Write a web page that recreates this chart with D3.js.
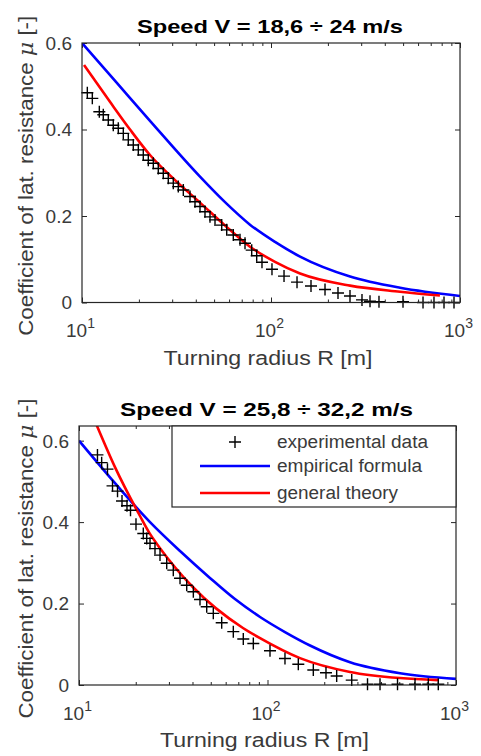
<!DOCTYPE html>
<html>
<head>
<meta charset="UTF-8">
<title>Coefficient of lateral resistance</title>
<script src="https://d3js.org/d3.v7.min.js"></script>
<style>
body { margin: 0; background: #fff; }
svg { font-family: "Liberation Sans", Arial, Helvetica, sans-serif; }
</style>
</head>
<body>
<svg width="481" height="756"></svg>
<script>
// ---- data ----
var xTicks = [10, 100, 1000];
var xMinor = [20, 30, 40, 50, 60, 70, 80, 90, 200, 300, 400, 500, 600, 700, 800, 900];
var yTicks = [0, 0.2, 0.4, 0.6];
var legendLabels = ["experimental data", "empirical formula", "general theory"];

// upper panel: V = 18,6 ÷ 24 m/s
var topExpR  = [10.67, 11.34, 12.35, 12.96, 13.78, 14.64, 15.56, 16.54, 17.58, 18.68, 19.86, 21.1, 22.43, 23.84, 25.33,
                26.92, 28.61, 30.41, 32.32, 34.36, 37.28, 39.62, 42.11, 44.75, 47.56, 50.55, 54.86, 58.3, 63.17, 68.55,
                72.86, 79.05, 84.0, 89.6, 101.2, 117.2, 137.3, 162.8, 193.1, 226.2, 261.8, 303.0, 334.1, 372.7, 499.4,
                637.3, 728.5, 823.0, 929.6];
var topExpMu = [0.485, 0.472, 0.441, 0.434, 0.422, 0.41, 0.403, 0.391, 0.376, 0.364, 0.353, 0.341, 0.329, 0.322, 0.31,
                0.299, 0.287, 0.276, 0.268, 0.26, 0.245, 0.233, 0.222, 0.21, 0.198, 0.191, 0.179, 0.168, 0.156, 0.145,
                0.137, 0.121, 0.108, 0.093, 0.077, 0.061, 0.047, 0.038, 0.03, 0.022, 0.015, 0.006, 0.003, 0.002, 0.002,
                0, 0, 0, 0];
var topEmpR  = [10, 15.13, 22.9, 42.1, 57.1, 77.4, 105, 142.5, 262, 482, 1000];
var topEmpMu = [0.6, 0.51, 0.42, 0.291, 0.232, 0.18, 0.14, 0.106, 0.06, 0.034, 0.015];
var topThR   = [10.25, 14.06, 17.95, 22.89, 31.05, 42.1, 57.1, 77.4, 105, 142.5, 262, 482, 783];
var topThMu  = [0.549, 0.464, 0.4, 0.341, 0.283, 0.231, 0.178, 0.129, 0.094, 0.067, 0.039, 0.025, 0.016];

// lower panel: V = 25,8 ÷ 32,2 m/s
var botExpR  = [12.53, 13.19, 14.16, 15.06, 16.01, 16.91, 17.97, 18.76, 20.06, 21.93, 22.87, 23.81, 25.3, 26.9, 29.2,
                31.64, 34.35, 37.28, 40.42, 43.84, 47.59, 51.58, 57.15, 65.86, 74.4, 84.1, 103.1, 123.8, 145.7, 175.0,
                204.3, 232.8, 279.8, 339.3, 395.3, 489.5, 606.2, 713.1, 805.5];
var botExpMu = [0.565, 0.546, 0.53, 0.489, 0.476, 0.452, 0.44, 0.429, 0.395, 0.372, 0.36, 0.348, 0.335, 0.319, 0.299,
                0.282, 0.262, 0.245, 0.229, 0.21, 0.192, 0.176, 0.153, 0.131, 0.113, 0.102, 0.084, 0.065, 0.051, 0.037,
                0.03, 0.022, 0.012, 0.002, 0.002, 0.002, 0.002, 0.002, 0.002];
var botEmpR  = [10, 14.6, 23.81, 34.35, 49.5, 67.2, 91.3, 123.8, 168.1, 274, 505, 1000];
var botEmpMu = [0.6, 0.51, 0.4, 0.329, 0.263, 0.211, 0.167, 0.13, 0.097, 0.056, 0.029, 0.015];
var botThR   = [12.41, 15.52, 21.07, 23.81, 26.9, 40.26, 74.1, 91.3, 148.7, 274, 505, 802.7];
var botThMu  = [0.638, 0.535, 0.415, 0.371, 0.336, 0.24, 0.14, 0.115, 0.066, 0.032, 0.017, 0.012];

// ---- layout of the two panels ----
var panels = [
  { left: 82, right: 460, top: 43, bottom: 302.5, ymax: 0.6, title: "Speed V = 18,6 \u00f7 24 m/s", titleW: 266,
    exp: [topExpR, topExpMu], emp: [topEmpR, topEmpMu], th: [topThR, topThMu], legend: false },
  { left: 79, right: 456, top: 426, bottom: 685, ymax: 0.636, title: "Speed V = 25,8  \u00f7 32,2 m/s", titleW: 293,
    exp: [botExpR, botExpMu], emp: [botEmpR, botEmpMu], th: [botThR, botThMu], legend: true }
];

var svg = d3.select("svg");
var ink = "#262626";

panels.forEach(function(p, i) {
  var x = d3.scaleLog().domain([10, 1000]).range([p.left, p.right]);
  var y = d3.scaleLinear().domain([0, p.ymax]).range([p.bottom, p.top]);
  var g = svg.append("g");

  var clipId = "clip" + i;
  g.append("clipPath").attr("id", clipId).append("rect")
    .attr("x", p.left).attr("y", p.top)
    .attr("width", p.right - p.left).attr("height", p.bottom - p.top);

  // ticks on all four sides, pointing inwards
  function tickAxis(axis, tx, ty, vals, len) {
    var a = g.append("g").attr("transform", "translate(" + tx + "," + ty + ")")
      .call(axis.tickValues(vals).tickSize(len).tickFormat(""));
    a.select(".domain").remove();
    a.selectAll(".tick line").attr("stroke", ink).attr("stroke-width", 1);
  }
  tickAxis(d3.axisBottom(x), 0, p.bottom, xTicks, -5);
  tickAxis(d3.axisBottom(x), 0, p.bottom, xMinor, -3);
  tickAxis(d3.axisTop(x), 0, p.top, xTicks, -5);
  tickAxis(d3.axisTop(x), 0, p.top, xMinor, -3);
  tickAxis(d3.axisLeft(y), p.left, 0, yTicks, -5);
  tickAxis(d3.axisRight(y), p.right, 0, yTicks, -5);

  // curves
  var line = d3.line().x(function(d) { return x(d[0]); }).y(function(d) { return y(d[1]); })
    .curve(d3.curveMonotoneX);
  var curves = g.append("g").attr("clip-path", "url(#" + clipId + ")");
  curves.append("path").datum(d3.zip(p.emp[0], p.emp[1]))
    .attr("d", line).attr("fill", "none").attr("stroke", "#0000ff").attr("stroke-width", 2.6);
  curves.append("path").datum(d3.zip(p.th[0], p.th[1]))
    .attr("d", line).attr("fill", "none").attr("stroke", "#ff0000").attr("stroke-width", 2.6);

  // experimental markers
  g.append("g").selectAll("path").data(d3.zip(p.exp[0], p.exp[1])).enter().append("path")
    .attr("transform", function(d) { return "translate(" + x(d[0]) + "," + y(d[1]) + ")"; })
    .attr("d", "M-6,0H6M0,-6V6")
    .attr("stroke", "#000").attr("stroke-width", 1.4).attr("fill", "none");

  // box
  g.append("rect").attr("x", p.left).attr("y", p.top)
    .attr("width", p.right - p.left).attr("height", p.bottom - p.top)
    .attr("fill", "none").attr("stroke", ink).attr("stroke-width", 1.2);

  // y tick labels
  g.selectAll(".ylab").data(yTicks).enter().append("text")
    .attr("x", p.left - 10).attr("y", function(d) { return y(d); })
    .attr("dy", "0.36em").attr("text-anchor", "end")
    .attr("font-size", 19).attr("fill", "#3a3a3a")
    .text(function(d) { return d === 0 ? "0" : d3.format(".1f")(d); });

  // x tick labels 10^n
  xTicks.forEach(function(v) {
    var t = g.append("text").attr("x", x(v) - 16).attr("y", p.bottom + 34.5)
      .attr("font-size", 19).attr("fill", "#3a3a3a");
    t.append("tspan").text("10");
    t.append("tspan").attr("dy", -9).attr("font-size", 14).text(Math.round(Math.log10(v)));
  });

  var cx = (p.left + p.right) / 2;
  // title
  g.append("text").attr("x", cx - 1).attr("y", p.top - 10).attr("text-anchor", "middle")
    .attr("font-size", 19).attr("font-weight", "bold").attr("fill", "#000")
    .attr("textLength", p.titleW).attr("lengthAdjust", "spacingAndGlyphs")
    .text(p.title);

  // axis labels
  g.append("text").attr("x", cx - 3).attr("y", p.bottom + 62).attr("text-anchor", "middle")
    .attr("font-size", 20).attr("fill", "#3a3a3a")
    .attr("textLength", 209).attr("lengthAdjust", "spacingAndGlyphs")
    .text("Turning radius R [m]");

  var yl = g.append("text")
    .attr("transform", "translate(33," + ((p.top + p.bottom) / 2 + 3) + ") rotate(-90)")
    .attr("text-anchor", "middle").attr("font-size", 20).attr("fill", "#3a3a3a")
    .attr("textLength", 320).attr("lengthAdjust", "spacingAndGlyphs");
  yl.append("tspan").text("Coefficient of lat. resistance ");
  yl.append("tspan").attr("font-style", "italic").attr("font-family", "DejaVu Serif, serif").text("\u03bc");
  yl.append("tspan").text(" [-]");

  // legend
  if (p.legend) {
    var lg = g.append("g");
    lg.append("rect").attr("x", 172).attr("y", p.top).attr("width", p.right - 172).attr("height", 81)
      .attr("fill", "#fff").attr("stroke", ink).attr("stroke-width", 1.2);
    var rows = [p.top + 16, p.top + 40, p.top + 67];
    var widths = [151, 145, 121];
    lg.append("path").attr("transform", "translate(235," + rows[0] + ")")
      .attr("d", "M-6,0H6M0,-6V6").attr("stroke", "#000").attr("stroke-width", 1.4);
    lg.append("line").attr("x1", 200).attr("x2", 270).attr("y1", rows[1]).attr("y2", rows[1])
      .attr("stroke", "#0000ff").attr("stroke-width", 2.6);
    lg.append("line").attr("x1", 200).attr("x2", 270).attr("y1", rows[2]).attr("y2", rows[2])
      .attr("stroke", "#ff0000").attr("stroke-width", 2.6);
    legendLabels.forEach(function(s, k) {
      lg.append("text").attr("x", 277).attr("y", rows[k]).attr("dy", "0.35em")
        .attr("font-size", 18).attr("fill", "#3a3a3a")
        .attr("textLength", widths[k]).attr("lengthAdjust", "spacingAndGlyphs")
        .text(s);
    });
  }
});
</script>
</body>
</html>
